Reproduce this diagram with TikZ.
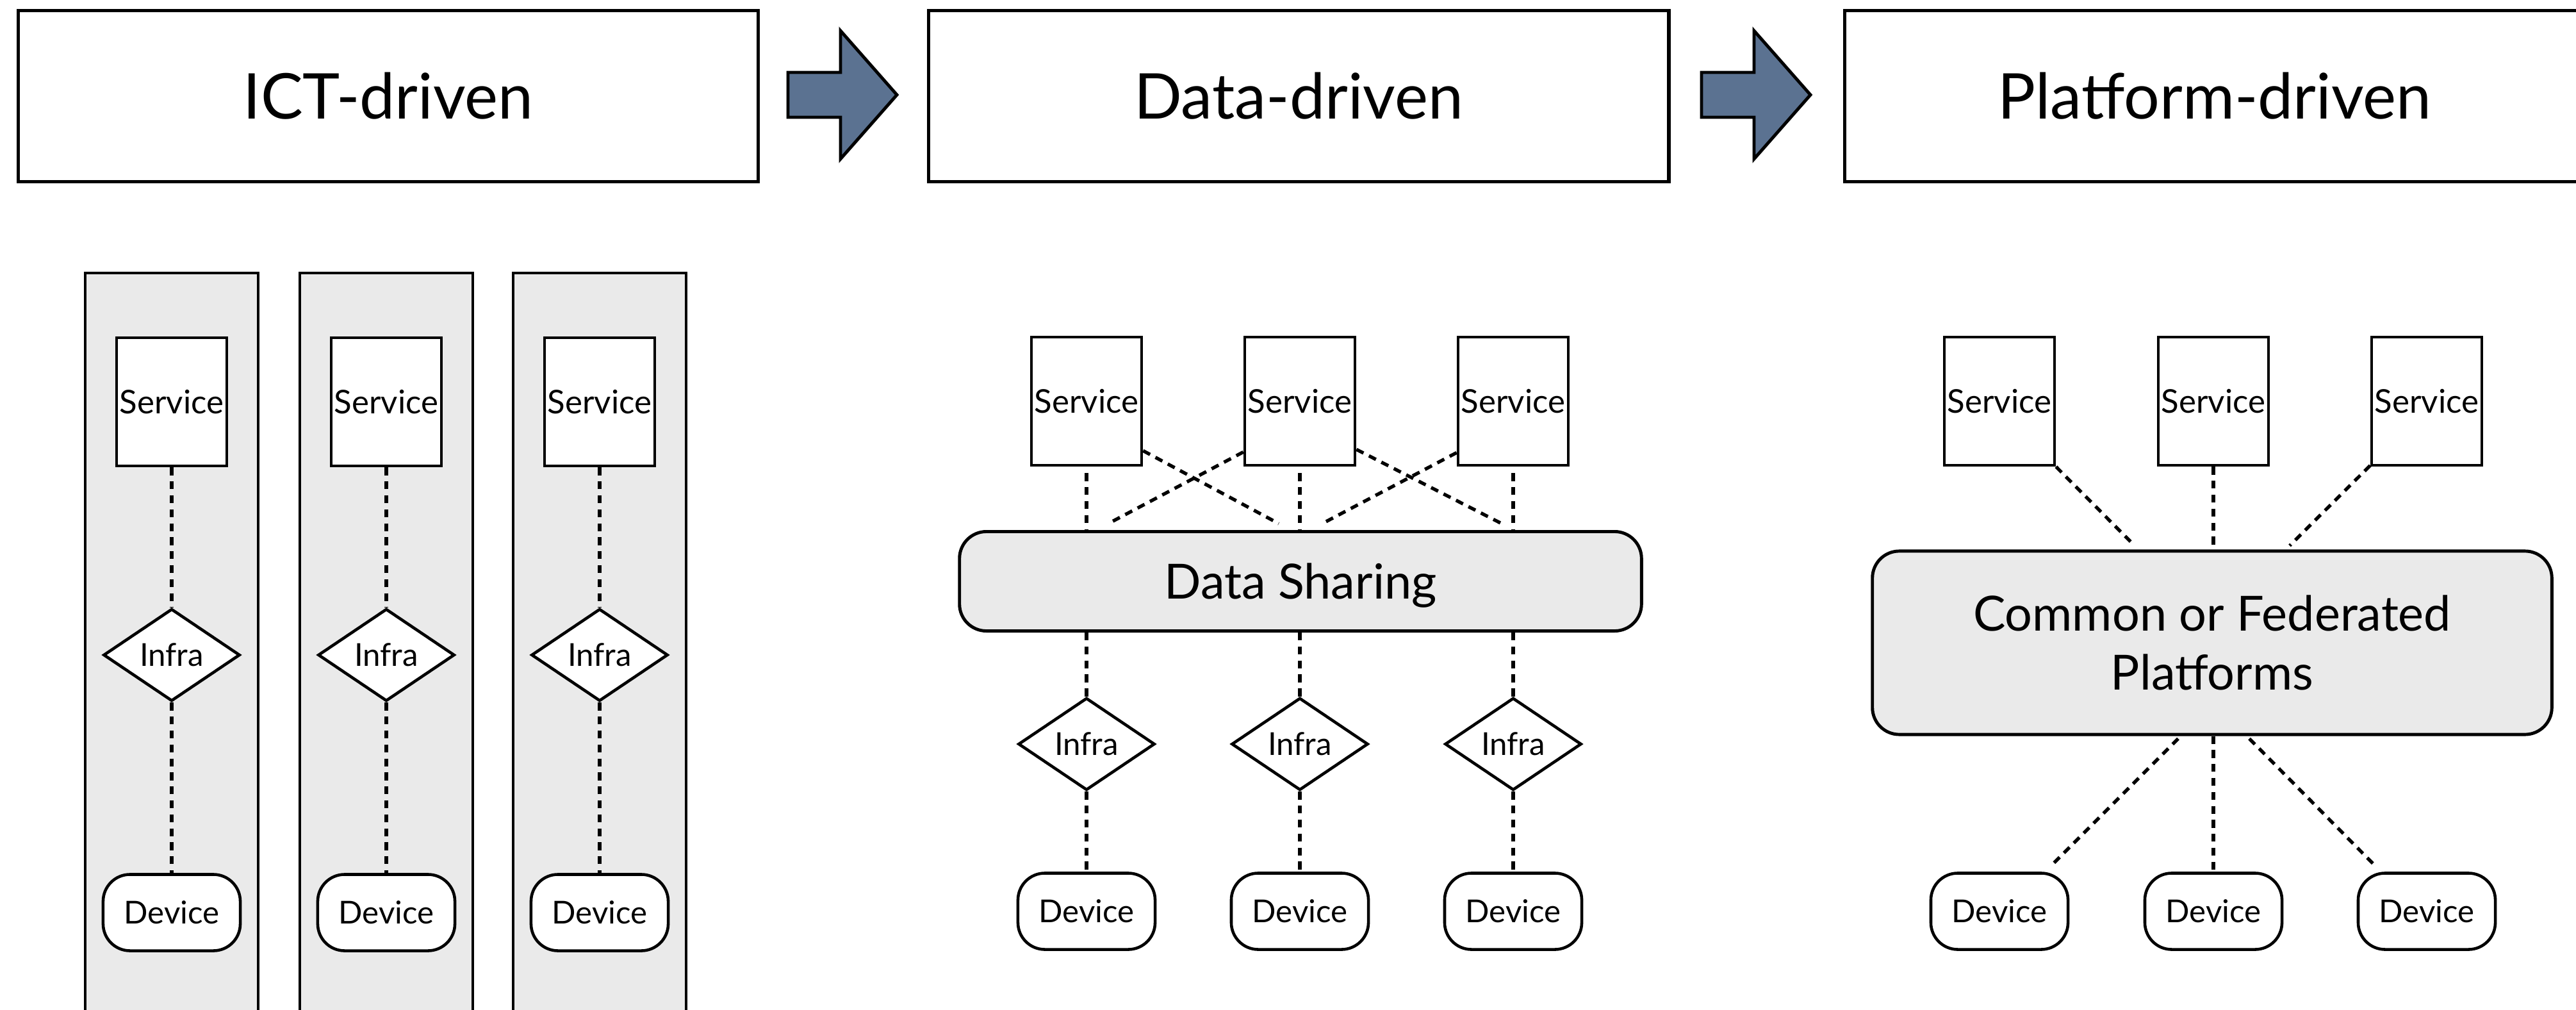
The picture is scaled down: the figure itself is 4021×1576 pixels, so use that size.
\documentclass[tikz,border=0pt]{standalone}
\usepackage{fontspec}
\setmainfont{Lato}
\usetikzlibrary{shapes.geometric,calc}

\definecolor{panelgray}{HTML}{EAEAEA}
\definecolor{arrowblue}{HTML}{5B7291}

\tikzset{
  stagebox/.style={draw, fill=white, line width=1.5pt, minimum width=11.55cm,
    minimum height=2.67cm, inner sep=0pt, font=\fontsize{28}{34}\selectfont},
  svc/.style={draw, fill=white, line width=1.3pt, minimum width=1.72cm,
    minimum height=2.0cm, inner sep=0pt, font=\fontsize{14.5}{17}\selectfont},
  infra/.style={draw, fill=white, diamond, line width=1.3pt, minimum width=2.13cm,
    minimum height=1.44cm, inner sep=0pt, font=\fontsize{14}{17}\selectfont},
  device/.style={draw, fill=white, rounded corners=0.42cm, line width=1.3pt,
    minimum width=2.14cm, minimum height=1.19cm, inner sep=0pt,
    font=\fontsize{14}{17}\selectfont},
  hub/.style={draw, fill=panelgray, rounded corners=0.42cm, line width=1.4pt,
    inner sep=0pt, font=\fontsize{21.5}{26}\selectfont, align=center},
  column/.style={draw, fill=panelgray, line width=1.4pt},
  link/.style={line width=1.5pt, dash pattern=on 3.5pt off 2.7pt},
  stagearrow/.style={draw, fill=arrowblue, line width=1.4pt, line join=miter}
}

\begin{document}
\begin{tikzpicture}[x=0.01cm, y=-0.01cm]
  \clip (0,0) rectangle (4021,1576);
  \fill[white] (0,0) rectangle (4021,1576);

  % stage headings
  \node[stagebox] (ict)  at (606,150)  {ICT-driven};
  \node[stagebox] (data) at (2027,150) {Data-driven};
  \node[stagebox] (plat) at (3457,150) {Platform-driven};

  % block arrows between the stages
  \draw[stagearrow] (1230,113) -- (1312,113) -- (1312,48) -- (1400,148)
    -- (1312,248) -- (1312,183) -- (1230,183) -- cycle;
  \draw[stagearrow] (2656,113) -- (2738,113) -- (2738,48) -- (2826,148)
    -- (2738,248) -- (2738,183) -- (2656,183) -- cycle;

  % ICT-driven: three separate vertical silos
  \foreach \cx/\k in {268/1, 603/2, 936/3} {
    \draw[column] (\cx-135,426) rectangle (\cx+135,1640);
    \node[svc]    (ls\k) at (\cx,627)  {Service};
    \node[infra]  (li\k) at (\cx,1022) {Infra};
    \node[device] (ld\k) at (\cx,1424) {Device};
    \draw[link] (ls\k.south) -- (li\k.north);
    \draw[link] (li\k.south) -- (ld\k.north);
  }

  % Data-driven: shared data layer
  \node[hub, minimum width=10.64cm, minimum height=1.55cm, text depth=0pt]
    (ds) at (2030,907) {Data Sharing};
  \foreach \cx/\k in {1696/1, 2029/2, 2362/3} {
    \node[svc]    (ms\k) at (\cx,626)  {Service};
    \node[infra]  (mi\k) at (\cx,1161) {Infra};
    \node[device] (md\k) at (\cx,1422) {Device};
    \draw[link] ($(ms\k.south)+(0,10)$) -- (ds.north -| ms\k.south);
    \draw[link] (ds.south -| mi\k.north) -- (mi\k.north);
    \draw[link] (mi\k.south) -- (md\k.north);
  }
  \draw[link] ($(ms1.south east)+(0,-25)$) -- ($(ds.north -| ms2.south)+(-33,-10)$);
  \draw[link] ($(ms2.south west)+(0,-23)$) -- ($(ds.north -| ms1.south)+(34,-10)$);
  \draw[link] ($(ms2.south east)+(0,-27)$) -- ($(ds.north -| ms3.south)+(-18,-10)$);
  \draw[link] ($(ms3.south west)+(0,-22)$) -- ($(ds.north -| ms2.south)+(35,-10)$);

  % Platform-driven: common or federated platforms
  \node[hub, minimum width=10.6cm, minimum height=2.86cm] (pf) at (3453,1003)
    {Common or Federated\\Platforms};
  \foreach \cx/\k in {3121/1, 3455/2, 3788/3} {
    \node[svc]    (ps\k) at (\cx,626)  {Service};
    \node[device] (pd\k) at (\cx,1422) {Device};
  }
  \draw[link] (ps1.south east) -- ($(pf.north -| ps2.south)+(-125,-8)$);
  \draw[link] (ps2.south) -- (pf.north -| ps2.south);
  \draw[link] ($(ps3.south west)+(0,-2)$) -- ($(pf.north -| ps2.south)+(119,-6)$);
  \draw[link] ($(pf.south -| pd2.north)+(-55,4)$) -- ($(pd1.north east)+(-30,-8)$);
  \draw[link] (pf.south -| pd2.north) -- (pd2.north);
  \draw[link] ($(pf.south -| pd2.north)+(56,4)$) -- ($(pd3.north west)+(30,-8)$);
\end{tikzpicture}
\end{document}
